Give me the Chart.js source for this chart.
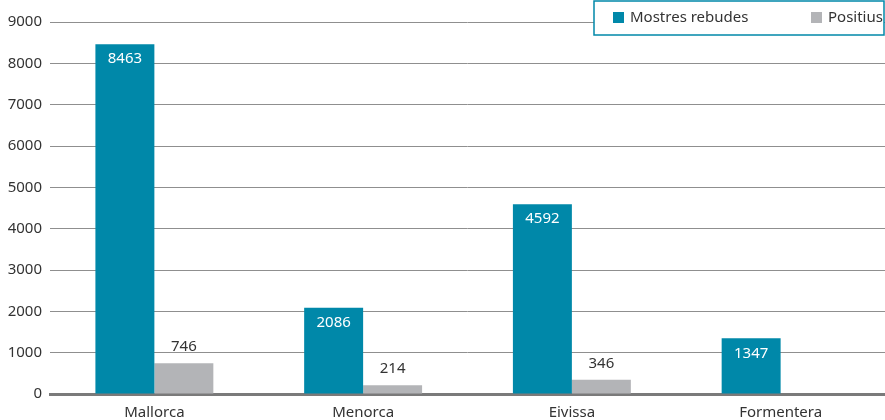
<!DOCTYPE html>
<html>
<head>
<meta charset="utf-8">
<script src="https://cdn.jsdelivr.net/npm/chart.js@4"></script>
<style>
  html, body { margin: 0; padding: 0; background: #fff; }
  #wrap { width: 885px; height: 420px; }
</style>
</head>
<body>
<div id="wrap"><canvas id="chart"></canvas></div>
<script>
const islands = ['Mallorca', 'Menorca', 'Eivissa', 'Formentera'];
const mostresRebudes = [8463, 2086, 4592, 1347];
const positius = [746, 214, 346, null];
const yTicks = [0, 1000, 2000, 3000, 4000, 5000, 6000, 7000, 8000, 9000];

const TEAL = '#0088a9';
const GREY = '#b3b4b7';
const FONT = '"Noto Sans", "Open Sans", sans-serif';

// value labels: white inside the teal bars, dark above the grey ones
const valueLabels = {
    id: 'valueLabels',
    afterDatasetsDraw(chart) {
        const ctx = chart.ctx;
        ctx.save();
        ctx.font = '15px ' + FONT;
        ctx.textAlign = 'center';
        ctx.textBaseline = 'middle';
        chart.data.datasets.forEach((ds, i) => {
            chart.getDatasetMeta(i).data.forEach((bar, j) => {
                const v = ds.data[j];
                if (v == null) return;
                if (i === 0) {
                    ctx.fillStyle = '#ffffff';
                    ctx.fillText(v, bar.x, bar.y + 15);
                } else {
                    ctx.fillStyle = '#333333';
                    ctx.fillText(v, bar.x, bar.y - 16);
                }
            });
        });
        ctx.restore();
    }
};

// boxed legend in the top right corner
const boxLegend = {
    id: 'boxLegend',
    afterDraw(chart) {
        const ctx = chart.ctx;
        const left = 594, top = 1, right = chart.width - 1, bottom = 35;
        ctx.save();
        ctx.fillStyle = '#fff';
        ctx.fillRect(left, top, right - left, bottom - top);
        ctx.strokeStyle = TEAL;
        ctx.lineWidth = 1.5;
        ctx.strokeRect(left, top, right - left, bottom - top);
        ctx.font = '15px ' + FONT;
        ctx.textBaseline = 'middle';
        const items = [[613, 0], [811, 1]];
        items.forEach(([x, i]) => {
            const ds = chart.data.datasets[i];
            ctx.fillStyle = ds.backgroundColor;
            ctx.fillRect(x, 12, 11, 11);
            ctx.fillStyle = '#333333';
            ctx.fillText(ds.label, x + 17, 18);
        });
        ctx.restore();
    }
};

new Chart(document.getElementById('chart'), {
    type: 'bar',
    data: {
        labels: islands,
        datasets: [
            { label: 'Mostres rebudes', data: mostresRebudes, backgroundColor: TEAL },
            { label: 'Positius', data: positius, backgroundColor: GREY }
        ]
    },
    options: {
        responsive: true,
        maintainAspectRatio: false,
        animation: false,
        layout: { padding: { top: 22, right: 0, bottom: 0, left: 0 } },
        datasets: { bar: { categoryPercentage: 0.565, barPercentage: 1 } },
        plugins: {
            legend: { display: false },
            tooltip: { enabled: false }
        },
        scales: {
            x: {
                afterFit(scale) { scale.height = 26; },
                grid: { display: false },
                border: { display: true, color: '#7a7a7a', width: 3 },
                ticks: { color: '#333333', font: { family: FONT, size: 15 }, padding: 2 }
            },
            y: {
                min: 0,
                max: 9000,
                afterFit(scale) { scale.width = 50; },
                afterBuildTicks(scale) { scale.ticks = yTicks.map(v => ({ value: v })); },
                grid: { color: '#8f8f8f', lineWidth: 1, drawTicks: false },
                border: { display: false },
                ticks: {
                    color: '#333333',
                    font: { family: FONT, size: 15 },
                    padding: 8,
                    callback: v => String(v)
                }
            }
        }
    },
    plugins: [valueLabels, boxLegend]
});
</script>
</body>
</html>
